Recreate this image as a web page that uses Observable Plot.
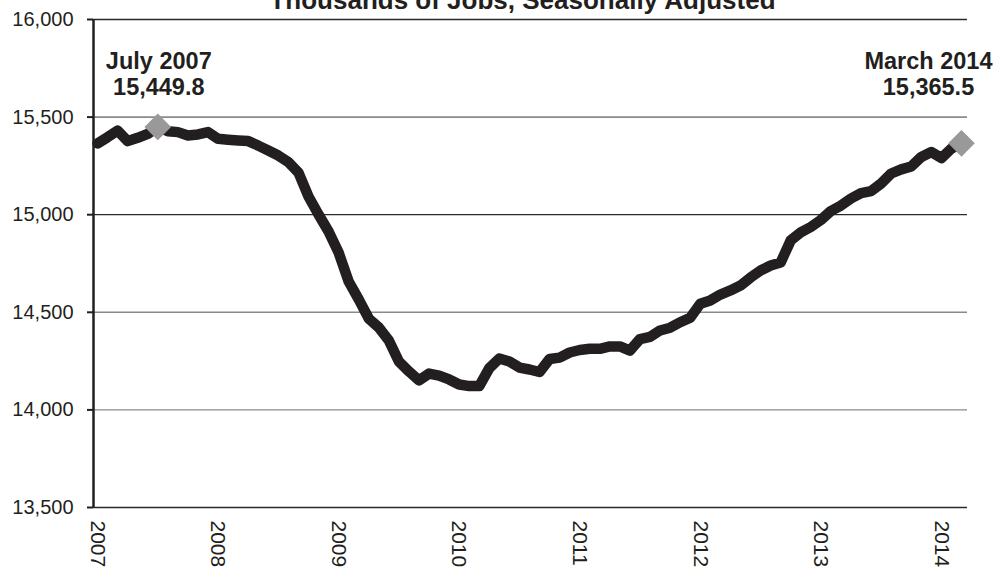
<!DOCTYPE html>
<html>
<head>
<meta charset="utf-8">
<script src="https://cdn.jsdelivr.net/npm/d3@7"></script>
<script src="https://cdn.jsdelivr.net/npm/@observablehq/plot@0.6"></script>
<style>
  html, body { margin: 0; padding: 0; background: #fff; }
</style>
</head>
<body>
<div id="chart"></div>
<script>
const title = "Thousands of Jobs, Seasonally Adjusted";
const years = [2007, 2008, 2009, 2010, 2011, 2012, 2013, 2014];
const yTicks = [13500, 14000, 14500, 15000, 15500, 16000];
// Monthly values, Jan 2007 .. Mar 2014 (thousands of jobs)
const jobs = [
  15365, 15397, 15431, 15377, 15394, 15414, 15449.8, 15428, 15423, 15406, 15411, 15423,
  15389, 15384, 15380, 15377, 15354, 15329, 15303, 15269, 15216, 15093, 15001, 14914,
  14806, 14658, 14566, 14468, 14422, 14356, 14248, 14197, 14151, 14186, 14176, 14156,
  14130, 14122, 14122, 14214, 14263, 14248, 14217, 14207, 14194, 14261, 14268, 14294,
  14307, 14313, 14313, 14325, 14325, 14304, 14363, 14374, 14407, 14421, 14449, 14472,
  14544, 14561, 14591, 14612, 14637, 14678, 14714, 14740, 14755, 14868, 14909, 14937,
  14973, 15019, 15047, 15083, 15111, 15121, 15160, 15211, 15232, 15247, 15296, 15321,
  15290, 15339, 15365.5
];
const highlightMonths = [6, 86];
const highlightNames = ["July 2007", "March 2014"];

const data = jobs.map((v, i) => ({i, v}));
const highlights = highlightMonths.map((m, k) => ({
  i: m, v: jobs[m],
  label: highlightNames[k] + "\n" + d3.format(",.1f")(jobs[m])
}));
const ink = "#231f20";

const chart = Plot.plot({
  width: 1005,
  height: 569,
  marginLeft: 93,
  marginRight: 38,
  marginTop: 19,
  marginBottom: 62,
  style: {fontFamily: "'Liberation Sans', Arial, sans-serif", fontSize: "20px", color: ink, background: "#fff"},
  x: {domain: [-0.4, 86.6], axis: null},
  y: {domain: [13500, 16000], axis: null},
  marks: [
    Plot.ruleY(yTicks, {
      stroke: d => (d === 15500 || d === 14500 || d === 14000) ? "#8a8a8a" : "#2a2a2a",
      strokeWidth: d => (d === 15500 || d === 14500) ? 1.6 : 1.3
    }),
    Plot.ruleX([-0.4], {y1: 13500, y2: 16000, stroke: ink, strokeWidth: 2.5}),
    Plot.axisY({ticks: yTicks, tickFormat: d3.format(","), label: null, tickSize: 6, tickPadding: 14, fontSize: 20, stroke: ink, strokeWidth: 2}),
    Plot.axisX({
      ticks: years.map((y, k) => k * 12),
      tickFormat: t => String(years[t / 12]),
      label: null,
      tickRotate: 90,
      tickSize: 0,
      tickPadding: 13,
      fontSize: 21
    }),
    Plot.line(data, {x: "i", y: "v", stroke: ink, strokeWidth: 10.5, strokeLinejoin: "round"}),
    Plot.dot(highlights, {x: "i", y: "v", symbol: "diamond2", r: 12, fill: "#999999", stroke: "none"}),
    Plot.text(highlights.slice(0, 1), {
      x: "i", text: "label", frameAnchor: "top", lineAnchor: "top", dy: 31, dx: 1,
      fontSize: 23.5, fontWeight: "bold", lineHeight: 1.1, textAnchor: "middle", fill: ink
    }),
    Plot.text(highlights.slice(1), {
      x: "i", text: "label", frameAnchor: "top", lineAnchor: "top", dy: 31, dx: -33,
      fontSize: 23.5, fontWeight: "bold", lineHeight: 1.1, textAnchor: "middle", fill: ink
    }),
    Plot.text([title], {
      frameAnchor: "top", dy: -19, dx: -8, lineAnchor: "middle",
      fontSize: 26, fontWeight: "bold", fill: ink
    })
  ]
});
document.getElementById("chart").appendChild(chart);
</script>
</body>
</html>
